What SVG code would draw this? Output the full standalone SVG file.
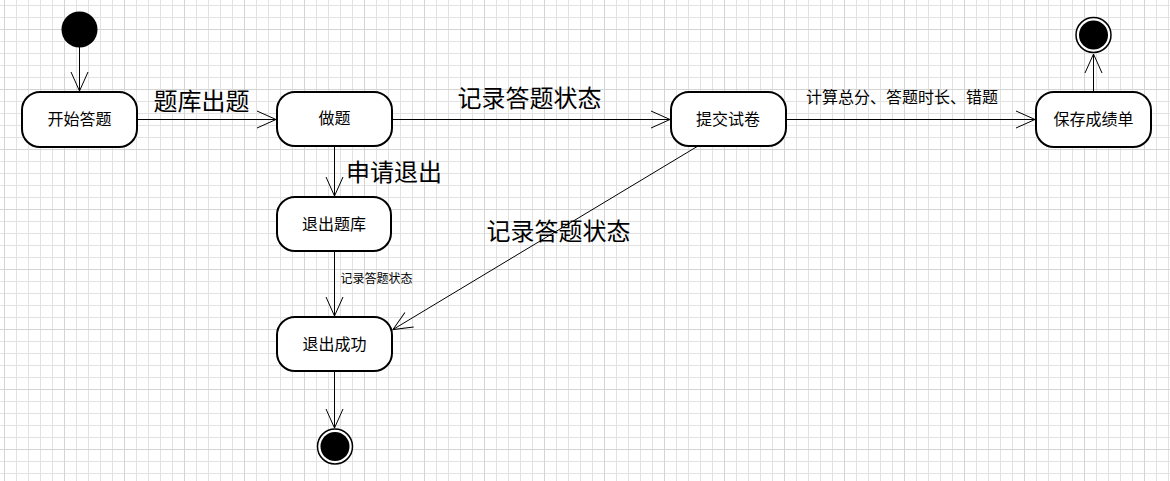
<svg xmlns="http://www.w3.org/2000/svg" width="1170" height="481" viewBox="0 0 1170 481">
  <defs>
    <pattern id="minor" x="4" y="5" width="12" height="12" patternUnits="userSpaceOnUse">
      <path d="M0.5 0V12M0 0.5H12" fill="none" stroke="#e2e2e2" stroke-width="1"/>
    </pattern>
    <pattern id="major" x="4" y="29" width="60" height="60" patternUnits="userSpaceOnUse">
      <path d="M0.5 0V60M0 0.5H60" fill="none" stroke="#d4d4d4" stroke-width="1"/>
    </pattern>
    <marker id="open" viewBox="-20 -10 22 20" refX="0" refY="0" markerWidth="22" markerHeight="20" markerUnits="userSpaceOnUse" orient="auto">
      <path d="M-19 -8.5L0 0L-19 8.5" fill="none" stroke="#000" stroke-width="1"/>
    </marker>
  </defs>
  <style>
    .node rect { fill: #fff; stroke: #000; stroke-width: 2; }
    .lbl { font-family: "Noto Sans CJK SC", "Noto Sans", sans-serif; fill: #000; text-anchor: middle; dominant-baseline: central; }
    .n { font-size: 16px; }
    .big { font-size: 24px; }
    .mid { font-size: 16px; }
    .sm { font-size: 12px; }
    .edge { fill: none; stroke: #000; stroke-width: 1; marker-end: url(#open); }
  </style>
  <rect width="1170" height="481" fill="#fff"/>
  <rect width="1170" height="481" fill="url(#minor)"/>
  <rect width="1170" height="481" fill="url(#major)"/>

  <g id="connectors">
    <line class="edge" x1="79.5" y1="47" x2="79.5" y2="91"/>
    <line class="edge" x1="137" y1="119.5" x2="276" y2="119.5"/>
    <line class="edge" x1="392" y1="119.5" x2="670" y2="119.5"/>
    <line class="edge" x1="786" y1="119.5" x2="1035" y2="119.5"/>
    <line class="edge" x1="1093.5" y1="92" x2="1093.5" y2="54"/>
    <line class="edge" x1="334.5" y1="146" x2="334.5" y2="196"/>
    <line class="edge" x1="334.5" y1="251" x2="334.5" y2="316"/>
    <line class="edge" x1="698" y1="146" x2="393" y2="329.5"/>
    <line class="edge" x1="334.5" y1="372" x2="334.5" y2="428"/>
    <text class="lbl big" x="201.5" y="99">题库出题</text>
    <text class="lbl big" x="529.5" y="96">记录答题状态</text>
    <text class="lbl mid" x="902" y="96">计算总分、答题时长、错题</text>
    <text class="lbl big" x="394" y="170">申请退出</text>
    <text class="lbl big" x="558.5" y="229">记录答题状态</text>
    <text class="lbl sm" x="376.5" y="277.5">记录答题状态</text>
  </g>

  <g id="start">
    <circle cx="79.5" cy="29.5" r="18" fill="#000"/>
  </g>
  <g id="n1" class="node">
    <rect x="22" y="92" width="115" height="55" rx="18"/>
    <text class="lbl n" x="79.5" y="118">开始答题</text>
  </g>
  <g id="n2" class="node">
    <rect x="277" y="92" width="115" height="54" rx="18"/>
    <text class="lbl n" x="334.5" y="117">做题</text>
  </g>
  <g id="n3" class="node">
    <rect x="671" y="92" width="115" height="54" rx="18"/>
    <text class="lbl n" x="728" y="118">提交试卷</text>
  </g>
  <g id="n4" class="node">
    <rect x="1036" y="92" width="115" height="55" rx="18"/>
    <text class="lbl n" x="1093.5" y="118">保存成绩单</text>
  </g>
  <g id="n5" class="node">
    <rect x="277" y="197" width="114" height="54" rx="18"/>
    <text class="lbl n" x="334" y="222.5">退出题库</text>
  </g>
  <g id="n6" class="node">
    <rect x="277" y="317" width="115" height="54" rx="18"/>
    <text class="lbl n" x="334.5" y="342.5">退出成功</text>
  </g>
  <g id="end1">
    <circle cx="1093.5" cy="35" r="17.5" fill="#fff" stroke="#000" stroke-width="1.5"/>
    <circle cx="1093.5" cy="35" r="14.5" fill="#000"/>
  </g>
  <g id="end2">
    <circle cx="335" cy="446.5" r="17.5" fill="#fff" stroke="#000" stroke-width="1.5"/>
    <circle cx="335" cy="446.5" r="14.5" fill="#000"/>
  </g>
</svg>
